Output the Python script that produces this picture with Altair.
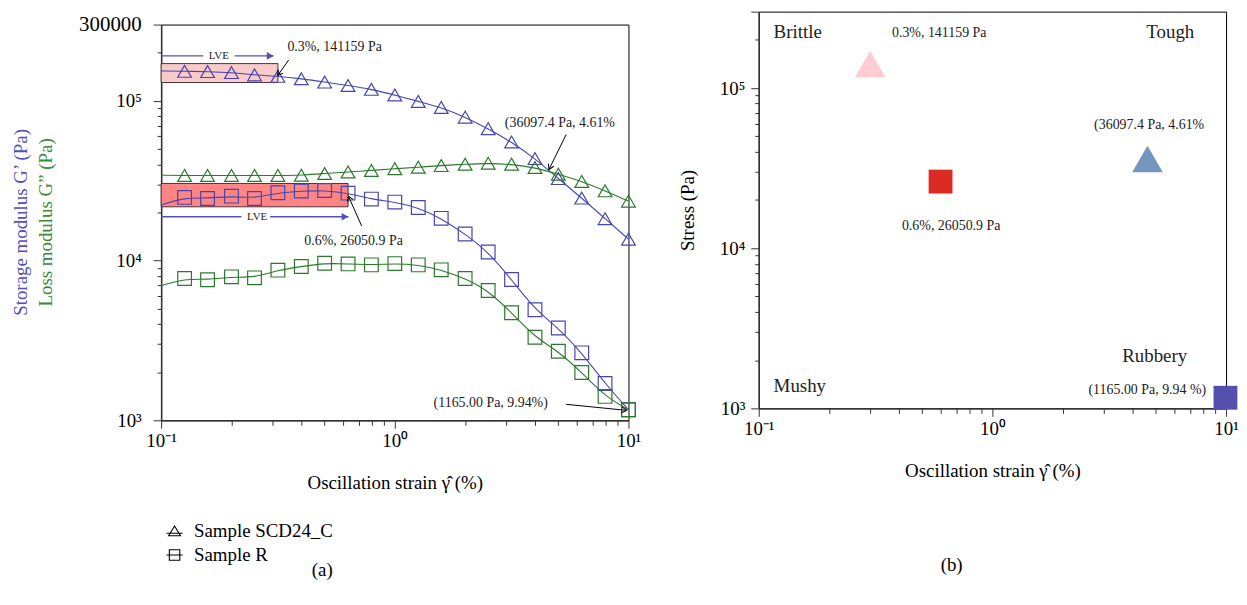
import altair as alt
import pandas as pd

FONT = "Liberation Serif"
BLUE = "#4646AE"
GREEN = "#2B7A2B"

# ---------------- data: panel (a) ----------------
strain = [0.126, 0.158, 0.2, 0.251, 0.316, 0.398, 0.501, 0.631, 0.794, 1.0,
          1.26, 1.58, 2.0, 2.51, 3.16, 3.98, 5.01, 6.31, 7.94, 10.0]
g1_c = [152900, 152300, 150200, 145300, 142300, 137300, 131000, 124600, 118000, 108700,
        99000, 90800, 79000, 66900, 55200, 43500, 32600, 24600, 18300, 13600]
g2_c = [34070, 34070, 34070, 34070, 34070, 34210, 35050, 35860, 36650, 37560,
        38370, 39320, 40060, 40640, 40060, 38210, 34700, 31250, 27310, 23550]
g1_r = [24840, 24480, 25300, 24480, 26540, 27200, 27460, 26420, 24240, 23220,
        21460, 18370, 14660, 11320, 7605, 4922, 3786, 2644, 1701, 1165]
g2_r = [7717, 7574, 7907, 7795, 8707, 9168, 9627, 9530, 9395, 9572,
        9395, 8745, 7717, 6495, 4715, 3307, 2705, 1992, 1411, 1165]
# curve values read at the left edge (strain 0.1)
line_start_strain = 0.1
line_start = {"g1_c": 153800, "g2_c": 34200, "g1_r": 22230, "g2_r": 6950}

samples = ["Sample SCD24_C", "Sample R"]
moduli = ["G'", "G''"]

# LVE boxes
lve_box_x0 = [0.1, 0.1]
lve_box_x1 = [0.316, 0.631]
lve_box_y0 = [130100, 21700]
lve_box_y1 = [170900, 30370]
lve_box_name = ["SCD24_C", "R"]
# LVE arrows (segments either side of the label)
lve_seg_x0 = [0.1, 0.2065, 0.1, 0.2929]
lve_seg_x1 = [0.1514, 0.3027, 0.2205, 0.633]
lve_seg_y = [190900, 190900, 18800, 18800]
lve_tip_x = [0.3027, 0.633]
lve_tip_y = [190900, 18800]
lve_text_x = [0.1765, 0.2574]
lve_text_y = [190900, 18800]

# annotations (a)
ann_text = ["0.3%, 141159 Pa", "(36097.4 Pa, 4.61%", "0.6%, 26050.9 Pa", "(1165.00 Pa, 9.94%)"]
ann_text_x = [0.347, 2.958, 0.41, 1.466]
ann_text_y = [216000, 72500, 13260, 1290]
ann_from_x = [0.3516, 5.41, 0.7215, 5.41]
ann_from_y = [180200, 61400, 16450, 1259]
ann_to_x = [0.3155, 4.566, 0.633, 9.83]
ann_to_y = [143900, 37130, 25300, 1154]
ann_angle = [125, 116, 246, 6]

# ---------------- data: panel (b) ----------------
b_strain = [0.3, 0.6, 4.61, 9.94]
b_stress = [141159, 26050.9, 36097.4, 1165.0]
b_sample = ["SCD24_C", "R", "SCD24_C", "R"]
b_label = ["brittle point", "LVE R", "crossover", "end R"]
b_colors = ["#FFCCD3", "#DB2B24", "#7595C1", "#5650AD"]

b_text_left = ["0.3%, 141159 Pa", "0.6%, 26050.9 Pa"]
b_text_left_x = [0.3717, 0.41]
b_text_left_y = [219000, 13720]
b_text_right = ["(36097.4 Pa, 4.61%", "(1165.00 Pa, 9.94 %)"]
b_text_right_x = [8.06, 8.22]
b_text_right_y = [58350, 1294]
b_region_left = ["Brittle", "Mushy"]
b_region_left_x = [0.1158, 0.1158]
b_region_left_y = [222200, 1371]
b_region_right = ["Tough", "Rubbery"]
b_region_right_x = [7.31, 6.82]
b_region_right_y = [222200, 2107]

x_ticks = [0.1, 0.2, 0.3, 0.4, 0.5, 0.6, 0.7, 0.8, 0.9, 1, 2, 3, 4, 5, 6, 7, 8, 9, 10]
y_ticks = [1000, 2000, 3000, 4000, 5000, 6000, 7000, 8000, 9000,
           10000, 20000, 30000, 40000, 50000, 60000, 70000, 80000, 90000,
           100000, 200000, 300000]

# ---------------- tables ----------------
rows = []
series = [("g1_c", g1_c, "G'", "Sample SCD24_C"), ("g2_c", g2_c, "G''", "Sample SCD24_C"),
          ("g1_r", g1_r, "G'", "Sample R"), ("g2_r", g2_r, "G''", "Sample R")]
for key, vals, mod, smp in series:
    for s, v in zip(strain, vals):
        rows.append({"strain": s, "value": v, "modulus": mod, "sample": smp, "key": key})
markers = pd.DataFrame(rows)
line_rows = []
for key, vals, mod, smp in series:
    line_rows.append({"strain": line_start_strain, "value": line_start[key], "modulus": mod, "sample": smp, "key": key})
    for s, v in zip(strain, vals):
        line_rows.append({"strain": s, "value": v, "modulus": mod, "sample": smp, "key": key})
lines = pd.DataFrame(line_rows)
legend_df = pd.DataFrame({"strain": [strain[0], strain[0]], "value": [g1_c[0], g1_r[0]], "legend": samples})

boxes = pd.DataFrame({"x": lve_box_x0, "x2": lve_box_x1, "y": lve_box_y0, "y2": lve_box_y1, "box": lve_box_name})
segs = pd.DataFrame({"x": lve_seg_x0, "x2": lve_seg_x1, "y": lve_seg_y})
tips = pd.DataFrame({"x": lve_tip_x, "y": lve_tip_y})
lve_txt = pd.DataFrame({"x": lve_text_x, "y": lve_text_y, "t": ["LVE", "LVE"]})
ann = pd.DataFrame({"t": ann_text, "tx": ann_text_x, "ty": ann_text_y, "x": ann_from_x, "y": ann_from_y,
                    "x2": ann_to_x, "y2": ann_to_y, "ang": ann_angle})

xscale = alt.Scale(type="log", domain=[0.1, 10], nice=False)
yscale = alt.Scale(type="log", domain=[1000, 300000], nice=False)

x_label_expr = "datum.value == 0.1 ? '10\u207b\u00b9' : datum.value == 1 ? '10\u2070' : datum.value == 10 ? '10\u00b9' : ''"
major_x = "indexof([0.1, 1, 10], datum.value) >= 0"

xaxis = alt.Axis(values=x_ticks, labelExpr=x_label_expr, labelFlush=False, labelOverlap=False,
                 tickSize={"condition": {"test": major_x, "value": 8}, "value": 5},
                 labelFontSize={"condition": {"test": major_x, "value": 19}, "value": 0.1},
                 labelPadding=3, titleFontSize=19, titlePadding=24,
                 title="Oscillation strain \u03b3\u0302 (%)")
ya_expr = ("datum.value == 1000 ? '10\u00b3' : datum.value == 10000 ? '10\u2074' : "
           "datum.value == 100000 ? '10\u2075' : datum.value == 300000 ? '300000' : ''")
major_y = "indexof([1000, 10000, 100000, 300000], datum.value) >= 0"
major_y_b = "indexof([1000, 10000, 100000], datum.value) >= 0"
yaxis_a = alt.Axis(values=y_ticks, labelExpr=ya_expr, labelOverlap=False, labelFlush=False,
                   tickSize={"condition": {"test": major_y, "value": 8}, "value": 4},
                   labelFontSize={"condition": {"test": "datum.value == 300000", "value": 21}, "value": 19},
                   labelPadding=12, title=None)


def X(field="strain"):
    return alt.X(f"{field}:Q", scale=xscale, axis=xaxis)


def Y(field="value"):
    return alt.Y(f"{field}:Q", scale=yscale, axis=yaxis_a)


col_mod = alt.Color("modulus:N", scale=alt.Scale(domain=moduli, range=[BLUE, GREEN]), legend=None)

box_layer = alt.Chart(boxes).mark_rect(stroke="#4a3040", strokeWidth=1).encode(
    x=X("x"), x2="x2:Q", y=Y("y"), y2="y2:Q",
    fill=alt.Fill("box:N", scale=alt.Scale(domain=lve_box_name, range=["#F9CACA", "#FF8484"]), legend=None))
seg_layer = alt.Chart(segs).mark_rule(color="#5050B8", strokeWidth=1.3).encode(x=X("x"), x2="x2:Q", y=Y("y"))
tip_layer = alt.Chart(tips).mark_point(shape="M0,0 L-1.75,-1 L-1.75,1 Z", filled=True, color="#5050B8",
                                       size=60, opacity=1).encode(x=X("x"), y=Y("y"))
lve_text_layer = alt.Chart(lve_txt).mark_text(fontSize=11, font=FONT, color="#222").encode(
    x=X("x"), y=Y("y"), text="t:N")

line_layer = alt.Chart(lines).mark_line(interpolate="basis", strokeWidth=1.1).encode(
    x=X(), y=Y(), color=col_mod, detail="key:N")
marker_layer = alt.Chart(markers).mark_point(filled=False, strokeWidth=1.2, size=190, opacity=1).encode(
    x=X(), y=Y(), color=col_mod,
    shape=alt.Shape("sample:N", scale=alt.Scale(domain=samples, range=["triangle-up", "square"]), legend=None))
legend_layer = alt.Chart(legend_df).mark_point(filled=False, color="black", opacity=0).encode(
    x=X(), y=Y(),
    shape=alt.Shape("legend:N", scale=alt.Scale(domain=samples, range=[
        "M0,-0.75 L0.85,0.65 L-0.85,0.65 Z M-1.15,0.3 L1.15,0.3",
        "M-0.75,-0.75 L0.75,-0.75 L0.75,0.75 L-0.75,0.75 Z M-1.15,0 L1.15,0"]),
        legend=alt.Legend(title=None, orient="none", legendX=4, legendY=500, direction="vertical",
                          labelFont=FONT, labelFontSize=19, labelColor="black", symbolSize=196,
                          symbolStrokeWidth=1.1, symbolFillColor="transparent", symbolStrokeColor="black",
                          symbolOpacity=1, rowPadding=4, labelOffset=10, padding=0)))

ann_rule = alt.Chart(ann).mark_rule(color="black", strokeWidth=1).encode(x=X("x"), x2="x2:Q", y=Y("y"), y2="y2:Q")
ann_head = alt.Chart(ann).mark_point(shape="M-1.7,-1 L0,0 L-1.7,1", filled=False, color="black",
                                     strokeWidth=1, size=36, opacity=1).encode(
    x=X("x2"), y=Y("y2"), angle=alt.Angle("ang:Q", scale=None))
ann_text_layer = alt.Chart(ann).mark_text(align="left", baseline="middle", fontSize=14, font=FONT, color="#222").encode(
    x=X("tx"), y=Y("ty"), text="t:N")

ytitle_blue = alt.Chart(pd.DataFrame({"t": ["Storage modulus G\u2019 (Pa)"]})).mark_text(
    angle=270, fontSize=19, font=FONT, color="#5151B8").encode(text="t:N", x=alt.value(-141), y=alt.value(199))
ytitle_green = alt.Chart(pd.DataFrame({"t": ["Loss modulus G\u201d (Pa)"]})).mark_text(
    angle=270, fontSize=19, font=FONT, color="#3A8A3A").encode(text="t:N", x=alt.value(-116), y=alt.value(199))

left = alt.layer(box_layer, seg_layer, tip_layer, lve_text_layer, line_layer, marker_layer, legend_layer,
                 ann_rule, ann_head, ann_text_layer, ytitle_blue, ytitle_green).resolve_scale(
    shape="independent").properties(
    width=470, height=398,
    title=alt.TitleParams("(a)", orient="bottom", frame="group", dx=-73, offset=-4, fontSize=19, font=FONT,
                          fontWeight="normal"))

# invisible spacer that lowers panel (a) relative to panel (b)
spacer = alt.Chart(pd.DataFrame({"s": [0]})).mark_point(opacity=0, size=0).encode(
    x=alt.value(0), y=alt.value(0)).properties(width=470, height=1,
                                               view=alt.ViewBackground(stroke="transparent"))
left_col = alt.vconcat(spacer, left, spacing=-1)

# ---------------- panel (b) ----------------
yb_expr = ("datum.value == 1000 ? '10\u00b3' : datum.value == 10000 ? '10\u2074' : "
           "datum.value == 100000 ? '10\u2075' : ''")
yaxis_b = alt.Axis(values=y_ticks, labelExpr=yb_expr, labelOverlap=False, labelFlush=False,
                   tickSize={"condition": {"test": major_y, "value": 8}, "value": 4},
                   labelFontSize={"condition": {"test": major_y_b, "value": 19}, "value": 0.1},
                   labelPadding=6, title="Stress (Pa)", titleFontSize=19, titlePadding=22)


def Xb(field):
    return alt.X(f"{field}:Q", scale=xscale, axis=xaxis)


def Yb(field):
    return alt.Y(f"{field}:Q", scale=yscale, axis=yaxis_b)


bdf = pd.DataFrame({"strain": b_strain, "stress": b_stress, "sample": b_sample, "label": b_label})
b_points = alt.Chart(bdf).mark_point(filled=True, opacity=1, strokeWidth=0).encode(
    x=Xb("strain"), y=Yb("stress"),
    shape=alt.Shape("sample:N", scale=alt.Scale(domain=["SCD24_C", "R"], range=["triangle-up", "square"]), legend=None),
    size=alt.Size("sample:N", scale=alt.Scale(domain=["SCD24_C", "R"], range=[950, 576]), legend=None),
    color=alt.Color("label:N", scale=alt.Scale(domain=b_label, range=b_colors), legend=None))


def txt(texts, xs, ys, align, size):
    d = pd.DataFrame({"t": texts, "x": xs, "y": ys})
    return alt.Chart(d).mark_text(align=align, baseline="middle", fontSize=size, font=FONT, color="#222").encode(
        x=Xb("x"), y=Yb("y"), text="t:N")


right = alt.layer(
    b_points,
    txt(b_text_left, b_text_left_x, b_text_left_y, "left", 14),
    txt(b_text_right, b_text_right_x, b_text_right_y, "right", 14),
    txt(b_region_left, b_region_left_x, b_region_left_y, "left", 19),
    txt(b_region_right, b_region_right_x, b_region_right_y, "right", 19),
).properties(width=470, height=399,
             title=alt.TitleParams("(b)", orient="bottom", frame="group", dx=-41, offset=76, fontSize=19, font=FONT,
                                   fontWeight="normal"))

chart = alt.concat(left_col, right, columns=2, spacing=36).resolve_scale(
    color="independent", shape="independent", size="independent", fill="independent"
).properties(
    padding={"left": 3, "top": 1, "right": 0, "bottom": 5}
).configure_view(stroke="black", strokeWidth=1).configure_axis(
    domainColor="#333", domainWidth=1.5, tickColor="#333", tickWidth=1, labelFont=FONT, titleFont=FONT,
    labelColor="black", titleColor="black", titleFontWeight="normal", grid=False
).configure_text(font=FONT)

chart.save("out.html", embed_options={"renderer": "svg", "actions": False})
